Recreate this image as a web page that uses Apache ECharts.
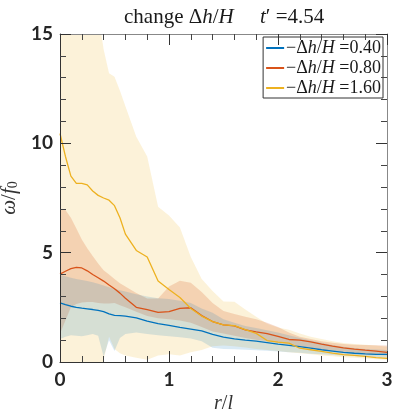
<!DOCTYPE html>
<html>
<head>
<meta charset="utf-8">
<script src="https://cdn.jsdelivr.net/npm/echarts@6/dist/echarts.min.js"></script>
<style>
html,body{margin:0;padding:0;background:#fff;}
#chart{width:395px;height:415px;}
</style>
</head>
<body>
<div id="chart"></div>
<script>
// r/l sample positions
var rVals = [0,0.05,0.1,0.15,0.2,0.25,0.3,0.35,0.4,0.45,0.5,0.55,0.6,0.7,0.8,0.9,1.0,1.1,1.2,1.3,1.4,1.5,1.6,1.7,1.8,1.9,2.0,2.1,2.2,2.3,2.4,2.5,2.6,2.7,2.8,2.9,3.0];

// -Δh/H = 0.40 (blue)
var blueMean  = [2.7,2.62,2.55,2.5,2.46,2.43,2.4,2.36,2.3,2.2,2.13,2.12,2.1,2.02,1.87,1.76,1.67,1.58,1.5,1.42,1.26,1.14,1.06,1.0,0.95,0.89,0.82,0.76,0.7,0.63,0.56,0.5,0.44,0.4,0.37,0.35,0.35];
var blueUpper = [3.98,3.92,3.85,3.8,3.75,3.7,3.65,3.58,3.5,3.42,3.35,3.28,3.22,3.1,3.0,2.92,2.88,2.8,2.7,2.45,2.25,1.95,1.8,1.65,1.55,1.45,1.35,1.22,1.1,0.98,0.88,0.78,0.7,0.64,0.6,0.57,0.55];
var blueLower = [1.05,1.15,1.22,1.2,1.18,1.22,1.28,1.2,0.25,1.0,0.5,1.1,1.28,1.35,1.28,1.22,1.18,1.13,1.08,0.95,0.65,0.6,0.58,0.56,0.54,0.52,0.48,0.45,0.42,0.38,0.35,0.32,0.29,0.26,0.24,0.22,0.2];

// -Δh/H = 0.80 (orange)
var orangeMean  = [4.02,4.15,4.27,4.33,4.3,4.17,4.0,3.85,3.7,3.52,3.35,3.15,2.92,2.5,2.4,2.27,2.3,2.45,2.48,2.12,1.85,1.7,1.65,1.47,1.38,1.3,1.17,1.03,1.0,0.92,0.82,0.73,0.65,0.59,0.54,0.5,0.44];
var orangeUpper = [6.98,6.95,6.6,6.1,5.6,5.2,4.85,4.5,4.2,4.0,3.8,3.6,3.45,3.15,2.9,2.9,3.45,3.72,3.62,3.2,2.7,2.33,2.2,2.07,1.95,1.8,1.6,1.35,1.15,1.05,0.95,0.88,0.82,0.79,0.78,0.77,0.75];
var orangeLower = [1.3,1.9,2.5,2.65,2.72,2.74,2.74,2.7,2.68,2.68,2.7,2.6,2.5,2.3,2.1,2.0,1.95,1.9,1.8,1.6,1.4,1.3,1.2,1.1,1.02,0.95,0.88,0.8,0.72,0.65,0.58,0.5,0.45,0.4,0.36,0.33,0.3];

// -Δh/H = 1.60 (yellow)
var yellowMean  = [10.45,9.4,8.5,8.17,8.17,8.1,7.82,7.62,7.5,7.4,7.15,6.6,5.85,5.1,4.8,3.7,3.32,2.95,2.45,2.1,1.85,1.7,1.66,1.48,1.31,0.98,0.91,0.86,0.63,0.56,0.49,0.41,0.34,0.3,0.26,0.2,0.17];
var yellowUpper = [16,16,16,16,16,16,16,16,14.3,13.2,13.05,12.4,11.7,10.3,9.4,7.1,6.7,6.15,4.8,3.8,3.25,2.77,2.76,2.4,2.07,1.75,1.58,1.47,1.3,1.15,1.05,0.95,0.87,0.82,0.79,0.75,0.7];
var yellowLower = [-1,-1,-1,-1,-1,-1,-1,-1,0.1,1.15,0.6,0.4,0.3,0.2,0.1,0.3,0.35,0.3,0.45,0.55,0.72,0.75,0.72,0.66,0.6,0.55,0.5,0.45,0.4,0.35,0.3,0.26,0.22,0.19,0.16,0.13,0.1];

var legendNames = ['0.40','0.80','1.60'];
var xTicks = [0,1,2,3];
var yTicks = [0,5,10,15];

var colors = ['#0072BD','#D95319','#EDB120'];
var bandFills = ['rgba(0,114,189,0.15)','rgba(217,83,25,0.2)','rgba(237,177,32,0.17)'];

function pairs(ys){ return rVals.map(function(x,i){ return [x, ys[i]]; }); }

function band(lower, upper, fill){
  return {
    type:'custom', silent:true, clip:true, z:1,
    data:[[rVals[0], lower[0]]],
    encode:{x:0,y:1},
    renderItem:function(params, api){
      var pts = [], i;
      for(i=0;i<rVals.length;i++) pts.push(api.coord([rVals[i], upper[i]]));
      for(i=rVals.length-1;i>=0;i--) pts.push(api.coord([rVals[i], lower[i]]));
      var cs = params.coordSys;
      return {type:'polygon', shape:{points:pts}, style:{fill:fill, stroke:null},
        clipPath:{type:'rect', shape:{x:cs.x, y:cs.y, width:cs.width, height:cs.height}}};
    }
  };
}

function lineS(name, ys, color){
  return {type:'line', name:name, data:pairs(ys), showSymbol:false, symbol:'none',
    lineStyle:{color:color, width:1.3}, itemStyle:{color:color}, z:5, animation:false};
}

var serif = 'Liberation Serif';
function mr(size, color){
  return {
    u:{fontFamily:serif, fontSize:size, fontWeight:'normal', color:color},
    i:{fontFamily:serif, fontSize:size, fontWeight:'normal', fontStyle:'italic', color:color}
  };
}

var chart = echarts.init(document.getElementById('chart'), null, {renderer:'canvas'});
function ax(extra){
  var base = {
    min:0, z:10, splitLine:{show:false},
    axisLine:{show:true, onZero:false, lineStyle:{color:'#333', width:1}},
    axisTick:{show:true, inside:true, length:11, lineStyle:{color:'#333', width:1}},
    minorTick:{show:true, splitNumber:5, length:6, lineStyle:{color:'#444', width:1}}
  };
  for (var k in extra) base[k] = extra[k];
  return base;
}
chart.setOption({
  animation:false,
  backgroundColor:'#fff',
  title:{
    text:'{u|change Δ}{i|h}{u|/}{i|H}{u|     }{i|t}{u|′ =4.54}',
    left:119, top:2,
    textStyle:{fontWeight:'normal', rich:mr(21,'#1a1a1a')}
  },
  grid:{left:60, right:8, top:34, bottom:53, containLabel:false, outerBoundsMode:'none'},
  legend:{
    show:true, right:12, top:37, orient:'vertical',
    backgroundColor:'#fff', borderColor:'#333', borderWidth:1, borderRadius:0,
    padding:[2,2,1,3], itemGap:2, itemWidth:18, itemHeight:2,
    icon:'rect',
    data:legendNames.map(function(n){ return {name:n}; }),
    formatter:function(n){ return '{u|−Δ}{i|h}{u|/}{i|H}{u| =' + n + '}'; },
    textStyle:{rich:mr(18,'#1a1a1a'), padding:[0,0,0,-3]}
  },
  xAxis:[
    ax({
      type:'value', max:3, interval:1, position:'bottom',
      axisLabel:{show:true, margin:8, fontFamily:'Lato', fontWeight:'bold', fontSize:19, color:'#262626',
        formatter:function(v){ return xTicks.indexOf(v)>=0 ? String(v) : ''; }},
      name:'{i|r}{u|/}{i|l}', nameLocation:'middle', nameGap:27,
      nameTextStyle:{rich:mr(20,'#333')}
    }),
    ax({
      type:'value', max:3, interval:1, position:'top',
      axisLine:{show:true, onZero:false, lineStyle:{color:'#888', width:1}},
      axisLabel:{show:false}
    })
  ],
  yAxis:[
    ax({
      type:'value', max:15, interval:5, position:'left',
      axisLabel:{show:true, margin:7, fontFamily:'Lato', fontWeight:'bold', fontSize:19, color:'#262626',
        formatter:function(v){ return yTicks.indexOf(v)>=0 ? String(v) : ''; }},
      name:'{i|ω}{u|/}{i|f}{s|0}', nameLocation:'middle', nameGap:31, nameRotate:90,
      nameTextStyle:{rich:{
        u:{fontFamily:serif, fontSize:21, color:'#333'},
        i:{fontFamily:serif, fontSize:21, fontStyle:'italic', color:'#333'},
        s:{fontFamily:serif, fontSize:14, color:'#333', padding:[8,0,0,0]}}}
    }),
    ax({
      type:'value', max:15, interval:5, position:'right',
      axisLine:{show:true, onZero:false, lineStyle:{color:'#888', width:1}},
      axisLabel:{show:false}
    })
  ],
  series:[
    band(yellowLower, yellowUpper, bandFills[2]),
    band(orangeLower, orangeUpper, bandFills[1]),
    band(blueLower, blueUpper, bandFills[0]),
    lineS(legendNames[0], blueMean, colors[0]),
    lineS(legendNames[1], orangeMean, colors[1]),
    lineS(legendNames[2], yellowMean, colors[2])
  ]
});
</script>
</body>
</html>
